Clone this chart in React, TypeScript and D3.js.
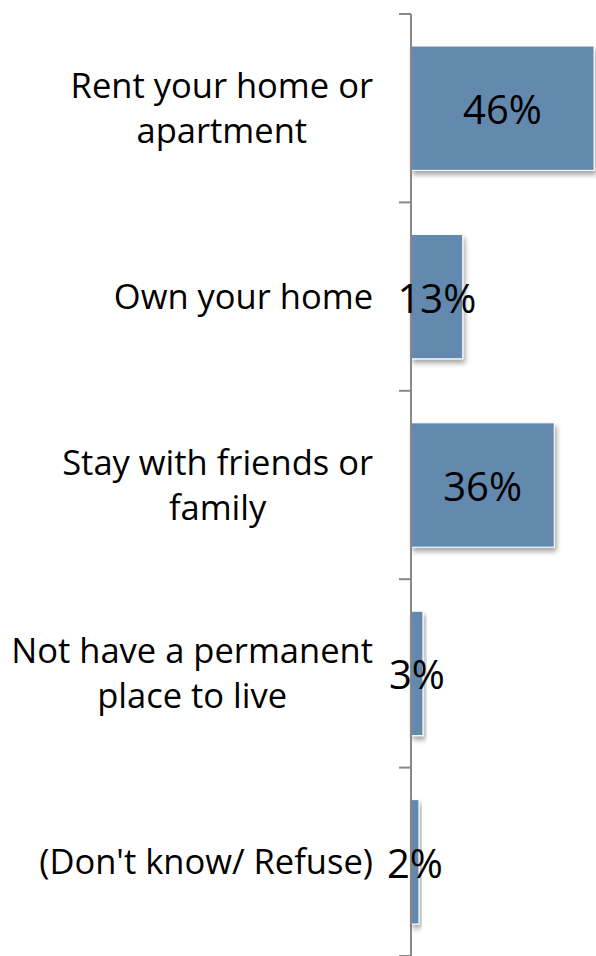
import React, { useLayoutEffect, useRef, useState } from "react";
import * as d3 from "d3";

const categories: string[][] = [
  ["Rent your home or", "apartment"],
  ["Own your home"],
  ["Stay with friends or", "family"],
  ["Not have a permanent", "place to live"],
  ["(Don't know/ Refuse)"],
];
const values: number[] = [46, 13, 36, 3, 2];
const valueLabels: string[] = ["46%", "13%", "36%", "3%", "2%"];

const W = 596;
const H = 956;

export default function App() {
  const axisX = 411;
  const top = 14;
  const bottom = 956;
  const labelRight = 373;
  const x = d3.scaleLinear().domain([0, 46]).range([axisX, 594]);
  const idx = categories.map((_, i) => i);
  const y = d3.scaleBand<number>().domain(idx).range([top, bottom]).paddingInner(0.34).paddingOuter(0.17);
  const tickYs = d3.range(categories.length + 1).map((i) => top + (i * (bottom - top)) / categories.length);
  const font = "'Open Sans', sans-serif";
  const svgRef = useRef<SVGSVGElement>(null);
  const [widths, setWidths] = useState<number[]>(categories.map(() => 300));
  useLayoutEffect(() => {
    if (!svgRef.current) return;
    const ws = idx.map((i) => {
      const spans = svgRef.current!.querySelectorAll(`.lab${i} tspan`);
      let m = 0;
      spans.forEach((s) => {
        m = Math.max(m, (s as SVGTextContentElement).getComputedTextLength());
      });
      return m;
    });
    setWidths(ws);
  }, []);
  return (
    <div style={{ position: "absolute", left: 0, top: 0 }}>
      <svg ref={svgRef} width={W} height={H} style={{ display: "block" }}>
        <defs>
          <filter id="sh" x="-20%" y="-20%" width="150%" height="150%">
            <feDropShadow dx="2" dy="4" stdDeviation="2.5" floodColor="#000" floodOpacity="0.35" />
          </filter>
        </defs>
        <rect width={W} height={H} fill="#fff" />
        {idx.map((i) => (
          <rect
            key={"b" + i}
            x={x(0)}
            y={y(i)!}
            width={x(values[i]) - x(0)}
            height={y.bandwidth()}
            fill="#6389ae"
            stroke="#fff"
            strokeWidth={1}
            filter="url(#sh)"
          />
        ))}
        <line x1={axisX} x2={axisX} y1={top} y2={bottom} stroke="#888" strokeWidth={2} />
        {tickYs.map((t, i) => (
          <line key={"t" + i} x1={axisX - 12} x2={axisX} y1={t} y2={t} stroke="#888" strokeWidth={2} />
        ))}
        {idx.map((i) => {
          const lines = categories[i];
          const cy = y(i)! + y.bandwidth() / 2;
          const lh = 45;
          const cx = labelRight - widths[i] / 2;
          return (
            <text key={"l" + i} className={"lab" + i} fontFamily={font} fontSize={34.5} fill="#000" textAnchor="middle">
              {lines.map((ln, j) => (
                <tspan key={j} x={cx} y={cy + 12 + (j - (lines.length - 1) / 2) * lh}>
                  {ln}
                </tspan>
              ))}
            </text>
          );
        })}
        {idx.map((i) => (
          <text
            key={"v" + i}
            x={(x(0) + x(values[i])) / 2}
            y={y(i)! + y.bandwidth() / 2 + 16}
            fontFamily={font}
            fontSize={40}
            textAnchor="middle"
            fill="#000"
          >
            {valueLabels[i]}
          </text>
        ))}
      </svg>
    </div>
  );
}
